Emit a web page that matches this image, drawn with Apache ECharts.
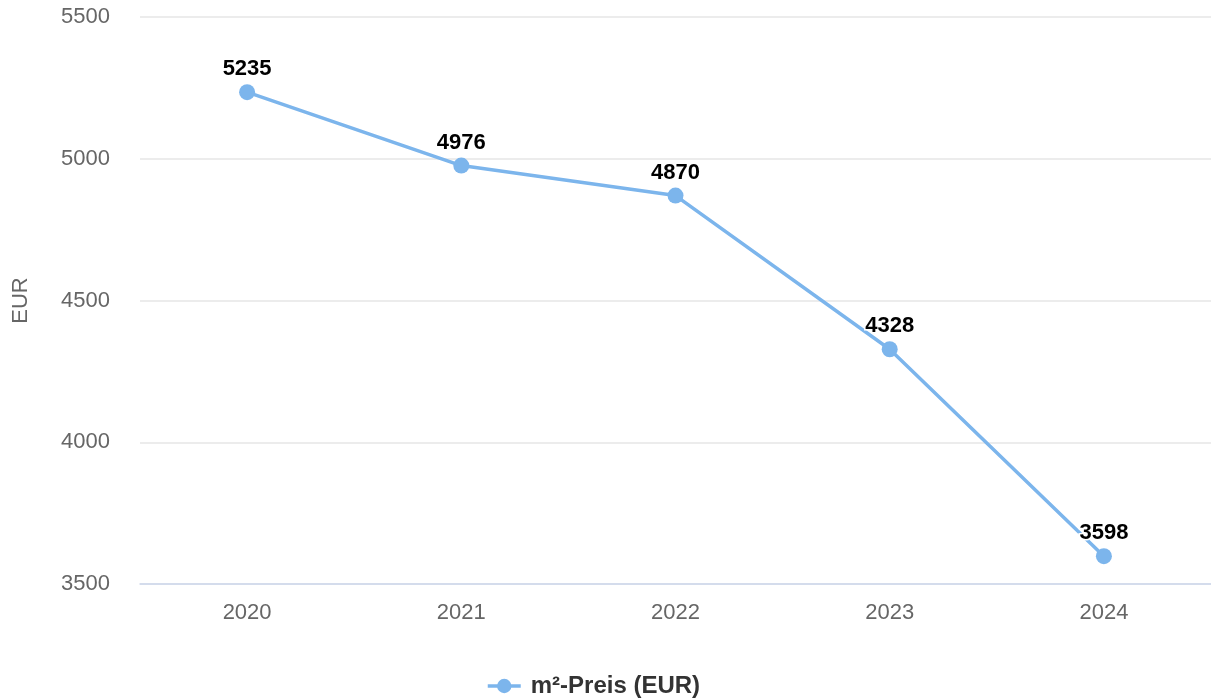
<!DOCTYPE html>
<html><head><meta charset="utf-8">
<script src="https://cdn.jsdelivr.net/npm/echarts@6/dist/echarts.min.js"></script>
<style>html,body{margin:0;padding:0;background:#fff}#c{width:1211px;height:699px}</style>
</head><body><div id="c"></div>
<script>
const categories = ['2020','2021','2022','2023','2024'];
const values = [5235, 4976, 4870, 4328, 3598];
const seriesName = 'm²-Preis (EUR)';
const yTicks = [3500, 4000, 4500, 5000, 5500];

const chart = echarts.init(document.getElementById('c'));
const font = '"Liberation Sans", Arial, Helvetica, sans-serif';
chart.setOption({
  animation: false,
  textStyle: { fontFamily: font },
  grid: { left: 140, right: 0, top: 17, bottom: 115, containLabel: false },
  legend: {
    top: 669, left: 481,
    itemWidth: 33, itemHeight: 18, itemGap: 10,
    lineStyle: { width: 3.5 },
    textStyle: { fontSize: 24, fontWeight: 'bold', color: '#333', fontFamily: font, padding: [0, 0, 0, 5] },
    data: [seriesName]
  },
  xAxis: {
    type: 'category', data: categories, boundaryGap: true,
    axisLine: { lineStyle: { color: '#ccd6eb', width: 1.5 } },
    axisTick: { show: false },
    axisLabel: { color: '#666', fontSize: 22, margin: 18, fontFamily: font }
  },
  yAxis: {
    type: 'value', min: yTicks[0], max: yTicks[yTicks.length-1], interval: 500,
    name: 'EUR', nameLocation: 'middle', nameGap: 108, nameRotate: 90,
    nameTextStyle: { color: '#666', fontSize: 22, fontFamily: font },
    axisLine: { show: false }, axisTick: { show: false },
    splitLine: { lineStyle: { color: '#e6e6e6', width: 1.5 } },
    axisLabel: { color: '#666', fontSize: 22, margin: 30, fontFamily: font, formatter: v => String(v) }
  },
  series: [{
    name: seriesName, type: 'line', data: values,
    symbol: 'circle', symbolSize: 16,
    lineStyle: { color: '#7cb5ec', width: 3.5 },
    itemStyle: { color: '#7cb5ec' },
    label: {
      show: true, position: 'top', distance: 4,
      color: '#000', fontSize: 22, fontWeight: 'bold', fontFamily: font,
      textBorderColor: '#fff', textBorderWidth: 3
    }
  }]
});
</script></body></html>
